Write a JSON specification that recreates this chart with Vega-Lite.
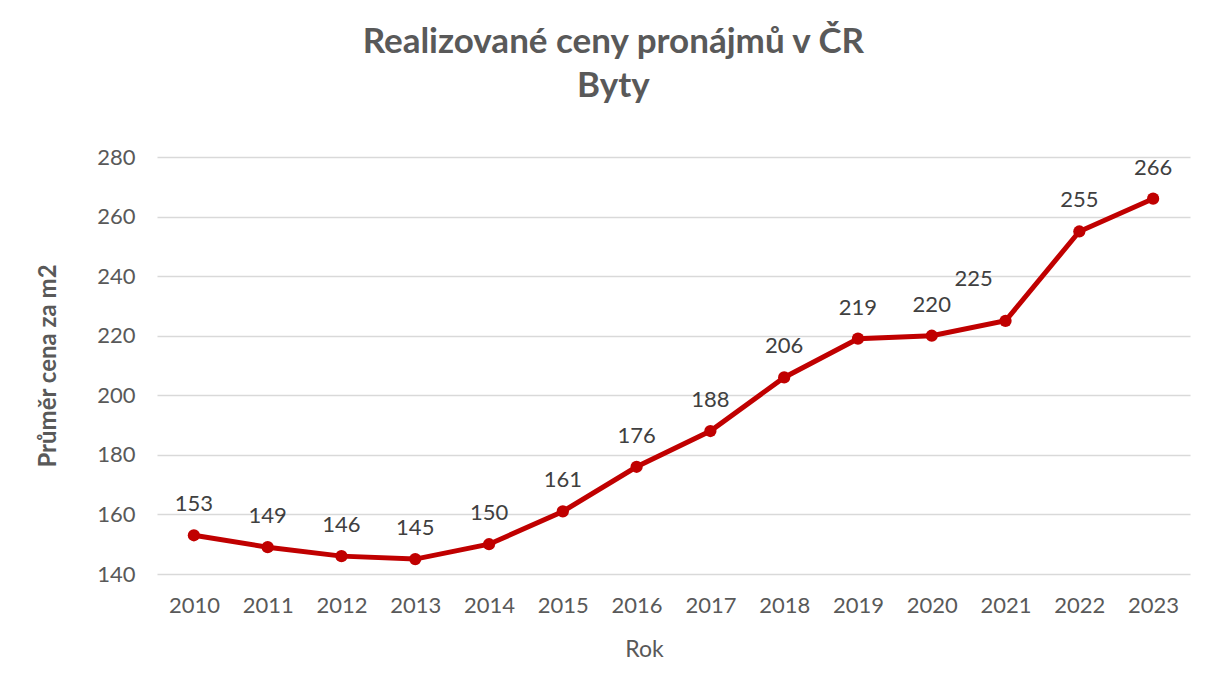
{
  "$schema": "https://vega.github.io/schema/vega-lite/v6.json",
  "autosize": "none",
  "width": 1033,
  "height": 417,
  "padding": {"left": 157, "top": 157, "right": 19, "bottom": 112},
  "background": "white",
  "config": {
    "font": "Lato",
    "view": {"stroke": null}
  },
  "title": {
    "text": ["Realizované ceny pronájmů v ČR", "Byty"],
    "fontSize": 35,
    "fontWeight": "bold",
    "color": "#595959",
    "font": "Lato",
    "lineHeight": 44,
    "anchor": "middle",
    "frame": "bounds",
    "offset": 42
  },
  "data": {
    "values": [
      {"Rok": "2010", "cena": 153},
      {"Rok": "2011", "cena": 149},
      {"Rok": "2012", "cena": 146},
      {"Rok": "2013", "cena": 145},
      {"Rok": "2014", "cena": 150},
      {"Rok": "2015", "cena": 161},
      {"Rok": "2016", "cena": 176},
      {"Rok": "2017", "cena": 188},
      {"Rok": "2018", "cena": 206},
      {"Rok": "2019", "cena": 219},
      {"Rok": "2020", "cena": 220},
      {"Rok": "2021", "cena": 225},
      {"Rok": "2022", "cena": 255},
      {"Rok": "2023", "cena": 266}
    ]
  },
  "encoding": {
    "x": {
      "field": "Rok",
      "type": "ordinal",
      "scale": {"type": "point", "padding": 0.5},
      "axis": {
        "title": "Rok",
        "labelAngle": 0,
        "labelFontSize": 22,
        "labelColor": "#595959",
        "labelPadding": 21,
        "titleFontSize": 23,
        "titleFontWeight": "normal",
        "titleColor": "#595959",
        "titlePadding": 22,
        "titleX": 487,
        "titleAlign": "center",
        "domain": false,
        "ticks": false,
        "grid": false
      }
    },
    "y": {
      "field": "cena",
      "type": "quantitative",
      "scale": {"domain": [140, 280], "nice": false, "zero": false},
      "axis": {
        "title": "Průměr cena za m2",
        "values": [140, 160, 180, 200, 220, 240, 260, 280],
        "labelFontSize": 22,
        "labelColor": "#595959",
        "labelPadding": 22,
        "titleFontSize": 24,
        "titleFontWeight": "bold",
        "titleColor": "#595959",
        "titlePadding": 36,
        "domain": false,
        "ticks": false,
        "grid": true,
        "gridColor": "#d9d9d9",
        "gridWidth": 1.5
      }
    }
  },
  "layer": [
    {
      "mark": {"type": "line", "color": "#C00000", "strokeWidth": 5}
    },
    {
      "mark": {"type": "point", "filled": true, "color": "#C00000", "size": 150, "opacity": 1}
    },
    {
      "transform": [{"filter": "datum.Rok != '2021'"}],
      "mark": {"type": "text", "dy": -31, "fontSize": 22, "color": "#404040", "baseline": "middle"},
      "encoding": {"text": {"field": "cena", "type": "quantitative"}}
    },
    {
      "transform": [{"filter": "datum.Rok == '2021'"}],
      "mark": {"type": "text", "dx": -32, "dy": -42, "fontSize": 22, "color": "#404040", "baseline": "middle"},
      "encoding": {"text": {"field": "cena", "type": "quantitative"}}
    }
  ]
}
